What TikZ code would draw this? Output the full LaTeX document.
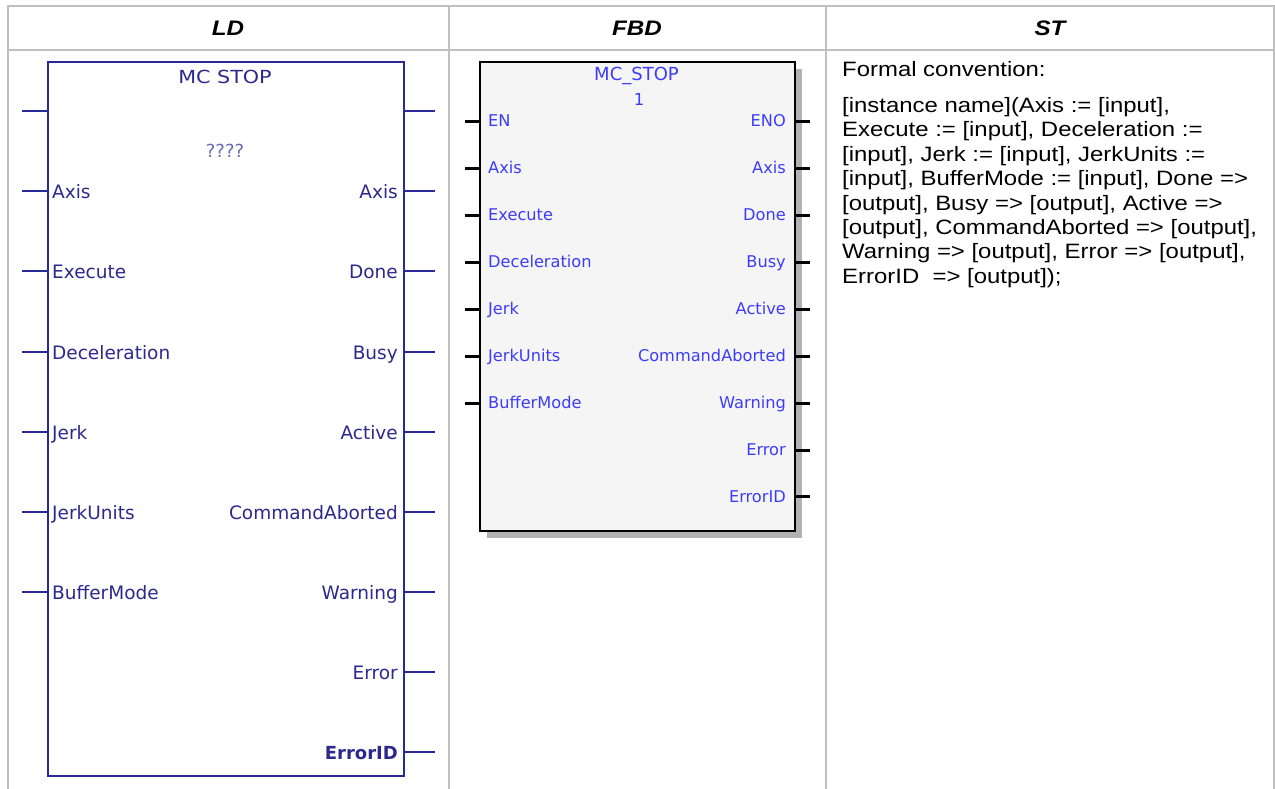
\documentclass[tikz,border=0pt]{standalone}
\usepackage{fontspec}
\setmainfont{Liberation Sans}
\newfontfamily\stfont[FakeStretch=1.15]{Liberation Sans}
\newfontfamily\ldfont{DejaVu Sans}
\newfontfamily\ldtfont[FakeStretch=1.15]{DejaVu Sans}
\definecolor{gridgray}{RGB}{192,192,192}
\definecolor{ldblue}{RGB}{40,40,150}
\definecolor{ldtext}{RGB}{45,40,140}
\definecolor{fbdblue}{RGB}{60,60,250}
\definecolor{fbdfill}{RGB}{245,245,245}
\definecolor{shadowgray}{RGB}{178,178,178}
\tikzset{
  gridline/.style={draw=gridgray, line width=2pt},
  ldline/.style={draw=ldblue, line width=2pt},
  ldlab/.style={font=\ldfont\fontsize{18.5}{22}\selectfont, text=ldtext, inner sep=0pt},
  ldtitle/.style={font=\ldtfont\fontsize{18}{22}\selectfont, text=ldtext, inner sep=0pt, anchor=base},
  fbdlab/.style={font=\ldfont\fontsize{16.2}{20}\selectfont, text=fbdblue, inner sep=0pt},
  fbdtitle/.style={font=\ldfont\fontsize{18}{22}\selectfont, text=fbdblue, inner sep=0pt, anchor=base},
  fbdpin/.style={draw=black, line width=3pt},
  sttext/.style={font=\stfont\fontsize{20.8}{24}\selectfont, inner sep=0pt, anchor=base west},
  header/.style={font=\stfont\bfseries\itshape\fontsize{21}{25}\selectfont, inner sep=0pt, anchor=base}
}
\begin{document}
\begin{tikzpicture}[x=1pt,y=-1pt]
\useasboundingbox (0,0) rectangle (1275,789);
% table grid
\draw[gridline] (8,789) -- (8,6) -- (1274,6) -- (1274,789);
\draw[gridline] (8,50) -- (1274,50);
\draw[gridline] (448.5,6) -- (448.5,789);
\draw[gridline] (826,6) -- (826,789);
% headers
\node[header] (hLD) at (228,36) {LD};
\node[header] (hFBD) at (637,36) {FBD};
\node[header] (hST) at (1050,36) {ST};

% ===== LD =====
\node[ldline, minimum width=356pt, minimum height=714pt, inner sep=0pt, outer sep=0pt] (ldbox) at (226,419) {};
\node[ldtitle] (ldname) at (225,84) {MC STOP};
\node[ldtitle, font=\ldfont\fontsize{18}{22}\selectfont, text=ldblue!70] (ldinst) at (225,158) {????};
% unlabeled EN/ENO pins
\coordinate (ldinE) at (22,111);
\coordinate (ldoutE) at (435,111);
\draw[ldline] (ldinE) -- (ldinE -| ldbox.west);
\draw[ldline] (ldoutE -| ldbox.east) -- (ldoutE);
% inputs
\foreach \y/\t [count=\i] in {191/Axis,271/Execute,352/Deceleration,432/Jerk,512/JerkUnits,592/BufferMode}{
  \coordinate (ldin\i) at (22,\y);
  \draw[ldline] (ldin\i) -- (ldin\i -| ldbox.west);
  \node[ldlab, anchor=base west] (ldinlab\i) at (52,\y+7) {\t};
}
% outputs
\foreach \y/\t [count=\i] in {191/Axis,271/Done,352/Busy,432/Active,512/CommandAborted,592/Warning,672/Error}{
  \coordinate (ldout\i) at (435,\y);
  \draw[ldline] (ldout\i -| ldbox.east) -- (ldout\i);
  \node[ldlab, anchor=base east] (ldoutlab\i) at (398,\y+7) {\t};
}
\coordinate (ldout8) at (435,752);
\draw[ldline] (ldout8 -| ldbox.east) -- (ldout8);
\node[ldlab, anchor=base east, font=\ldfont\bfseries\fontsize{18}{22}\selectfont] (ldoutlab8) at (398,759) {ErrorID};

% ===== FBD =====
\fill[shadowgray] (487,69) rectangle (802,538);
\node[draw=black, line width=2.5pt, fill=fbdfill, minimum width=315pt, minimum height=469pt, inner sep=0pt, outer sep=0pt] (fbdbox) at (637.5,296.5) {};
\node[fbdtitle] (fbdname) at (636.5,81) {MC\_STOP};
\node[fbdtitle, font=\ldfont\fontsize{16.5}{20}\selectfont] (fbdinst) at (639,106) {1};
\foreach \t [count=\i from 0] in {EN,Axis,Execute,Deceleration,Jerk,JerkUnits,BufferMode}{
  \coordinate (fbdin\i) at (465,121.7+46.9*\i);
  \draw[fbdpin] (fbdin\i) -- (fbdin\i -| fbdbox.west);
  \node[fbdlab, anchor=base west] (fbdinlab\i) at (488,126.9+46.9*\i) {\t};
}
\foreach \t [count=\i from 0] in {ENO,Axis,Done,Busy,Active,CommandAborted,Warning,Error,ErrorID}{
  \coordinate (fbdout\i) at (810,121.7+46.9*\i);
  \draw[fbdpin] (fbdout\i -| fbdbox.east) -- (fbdout\i);
  \node[fbdlab, anchor=base east] (fbdoutlab\i) at (786,126.9+46.9*\i) {\t};
}

% ===== ST =====
\node[sttext] (st0) at (842,77) {Formal convention:};
\node[sttext] (st1) at (842,112.5) {[instance name](Axis := [input],};
\node[sttext] (st2) at (842,136.9) {Execute := [input], Deceleration :=};
\node[sttext] (st3) at (842,161.3) {[input], Jerk := [input], JerkUnits :=};
\node[sttext] (st4) at (842,185.7) {[input], BufferMode := [input], Done =>};
\node[sttext] (st5) at (842,210.1) {[output], Busy => [output], Active =>};
\node[sttext] (st6) at (842,234.5) {[output], CommandAborted => [output],};
\node[sttext] (st7) at (842,258.9) {Warning => [output], Error => [output],};
\node[sttext] (st8) at (842,283.3) {ErrorID\ \ => [output]);};
\end{tikzpicture}
\end{document}
